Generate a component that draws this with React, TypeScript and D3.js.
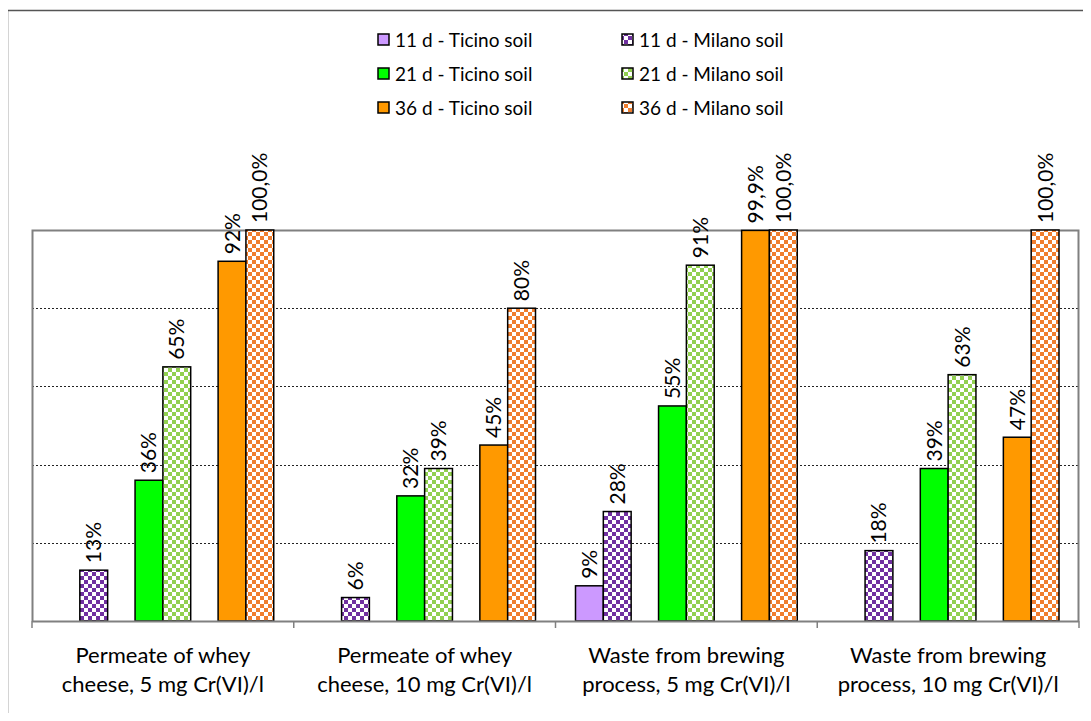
import React from 'react'
import * as d3 from 'd3'

const width = 1091
const height = 721

const categories = [
  ['Permeate of whey', 'cheese, 5 mg Cr(VI)/l'],
  ['Permeate of whey', 'cheese, 10 mg Cr(VI)/l'],
  ['Waste from brewing', 'process, 5 mg Cr(VI)/l'],
  ['Waste from brewing', 'process, 10 mg Cr(VI)/l'],
]
const seriesNames = [
  '11 d - Ticino soil',
  '11 d - Milano soil',
  '21 d - Ticino soil',
  '21 d - Milano soil',
  '36 d - Ticino soil',
  '36 d - Milano soil',
]
// values per series, one per category
const ticino11 = [0, 0, 9, 0]
const milano11 = [13, 6, 28, 18]
const ticino21 = [36, 32, 55, 39]
const milano21 = [65, 39, 91, 63]
const ticino36 = [92, 45, 99.9, 47]
const milano36 = [100, 80, 100, 100]
// labels as printed above bars ('' = none)
const labels11T = ['', '', '9%', '']
const labels11M = ['13%', '6%', '28%', '18%']
const labels21T = ['36%', '32%', '55%', '39%']
const labels21M = ['65%', '39%', '91%', '63%']
const labels36T = ['92%', '45%', '99,9%', '47%']
const labels36M = ['100,0%', '80%', '100,0%', '100,0%']
const yTicks = [0, 20, 40, 60, 80, 100]

const seriesValues = [ticino11, milano11, ticino21, milano21, ticino36, milano36]
const seriesLabels = [labels11T, labels11M, labels21T, labels21M, labels36T, labels36M]
const fills = ['#CC99FF', 'url(#chkPurple)', '#00FF00', 'url(#chkGreen)', '#FF9900', 'url(#chkOrange)']

const plot = { left: 32, top: 230, right: 1079, bottom: 621 }
const font = 'Lato, "Open Sans", sans-serif'

const x0 = d3.scaleBand<number>().domain(d3.range(categories.length)).range([plot.left, plot.right])
const y = d3.scaleLinear().domain([0, 100]).range([plot.bottom, plot.top])

// three pairs inside each group
const pairScale = d3.scaleBand<number>().domain([0, 1, 2]).range([20, x0.bandwidth() - 20]).paddingInner(0.33)

const Checker = ({ id, color }: { id: string; color: string }) => (
  <pattern id={id} width={8} height={8} patternUnits="userSpaceOnUse">
    <rect width={8} height={8} fill="#fff" />
    <rect width={4} height={4} fill={color} />
    <rect x={4} y={4} width={4} height={4} fill={color} />
  </pattern>
)

const App = () => {
  const bw = pairScale.bandwidth() / 2
  return (
    <svg width={width} height={height} style={{ display: 'block', margin: -8 }}>
      <defs>
        <Checker id="chkPurple" color="#7030A0" />
        <Checker id="chkGreen" color="#92D050" />
        <Checker id="chkOrange" color="#F07E2E" />
      </defs>
      <rect x={0} y={0} width={width} height={height} fill="#fff" />
      {/* outer frame */}
      <path d={`M7.5,${height} V10.5 H${width}`} fill="none" stroke="#555" strokeWidth={1.5} />

      {/* gridlines */}
      {yTicks.filter(t => t > 0 && t < 100).map(t => (
        <line key={t} x1={plot.left} x2={plot.right} y1={Math.round(y(t)) + 0.5} y2={Math.round(y(t)) + 0.5}
          stroke="#222" strokeDasharray="2,2" strokeWidth={1} />
      ))}
      {/* plot border */}
      <path d={`M${plot.left + 0.5},${plot.bottom} V${plot.top + 0.5} H${plot.right - 0.5} V${plot.bottom}`}
        fill="none" stroke="#808080" strokeWidth={2} />

      {/* bars */}
      {categories.map((_, ci) => {
        const gx = x0(ci) as number
        return (
          <g key={ci}>
            {seriesValues.map((vals, si) => {
              const pair = Math.floor(si / 2)
              const bx = gx + (pairScale(pair) as number) + (si % 2) * bw
              const v = vals[ci]
              const top = y(v)
              const lab = seriesLabels[si][ci]
              return (
                <g key={si}>
                  <rect x={bx} y={top} width={bw} height={plot.bottom - top}
                    fill={fills[si]} stroke="#000" strokeWidth={1.5} />
                  {lab && (
                    <text transform={`translate(${bx + bw / 2 + 7.5},${top - 7}) rotate(-90)`}
                      fontFamily={font} fontSize={21} fill="#000">{lab}</text>
                  )}
                </g>
              )
            })}
          </g>
        )
      })}

      {/* x axis */}
      <line x1={plot.left} x2={plot.right} y1={plot.bottom + 0.5} y2={plot.bottom + 0.5} stroke="#808080" strokeWidth={2} />
      {d3.range(categories.length + 1).map(i => {
        const tx = i < categories.length ? (x0(i) as number) : plot.right
        return <line key={i} x1={tx} x2={tx} y1={plot.bottom} y2={plot.bottom + 7} stroke="#808080" strokeWidth={1.5} />
      })}
      {categories.map((lines, ci) => (
        <text key={ci} x={(x0(ci) as number) + x0.bandwidth() / 2} textAnchor="middle"
          fontFamily={font} fontSize={22} fill="#000">
          {lines.map((l, li) => (
            <tspan key={li} x={(x0(ci) as number) + x0.bandwidth() / 2} y={663 + li * 29}>{l}</tspan>
          ))}
        </text>
      ))}

      {/* legend */}
      {seriesNames.map((name, si) => {
        const col = si % 2
        const row = Math.floor(si / 2)
        const lx = col === 0 ? 378 : 622
        const ly = 40 + row * 34
        return (
          <g key={si}>
            <rect x={lx} y={ly - 6} width={11} height={11} fill={fills[si]} stroke="#000" strokeWidth={1.5} />
            <text x={lx + 17} y={ly + 7} fontFamily={font} fontSize={19} fill="#000">{name}</text>
          </g>
        )
      })}
    </svg>
  )
}

export default App
